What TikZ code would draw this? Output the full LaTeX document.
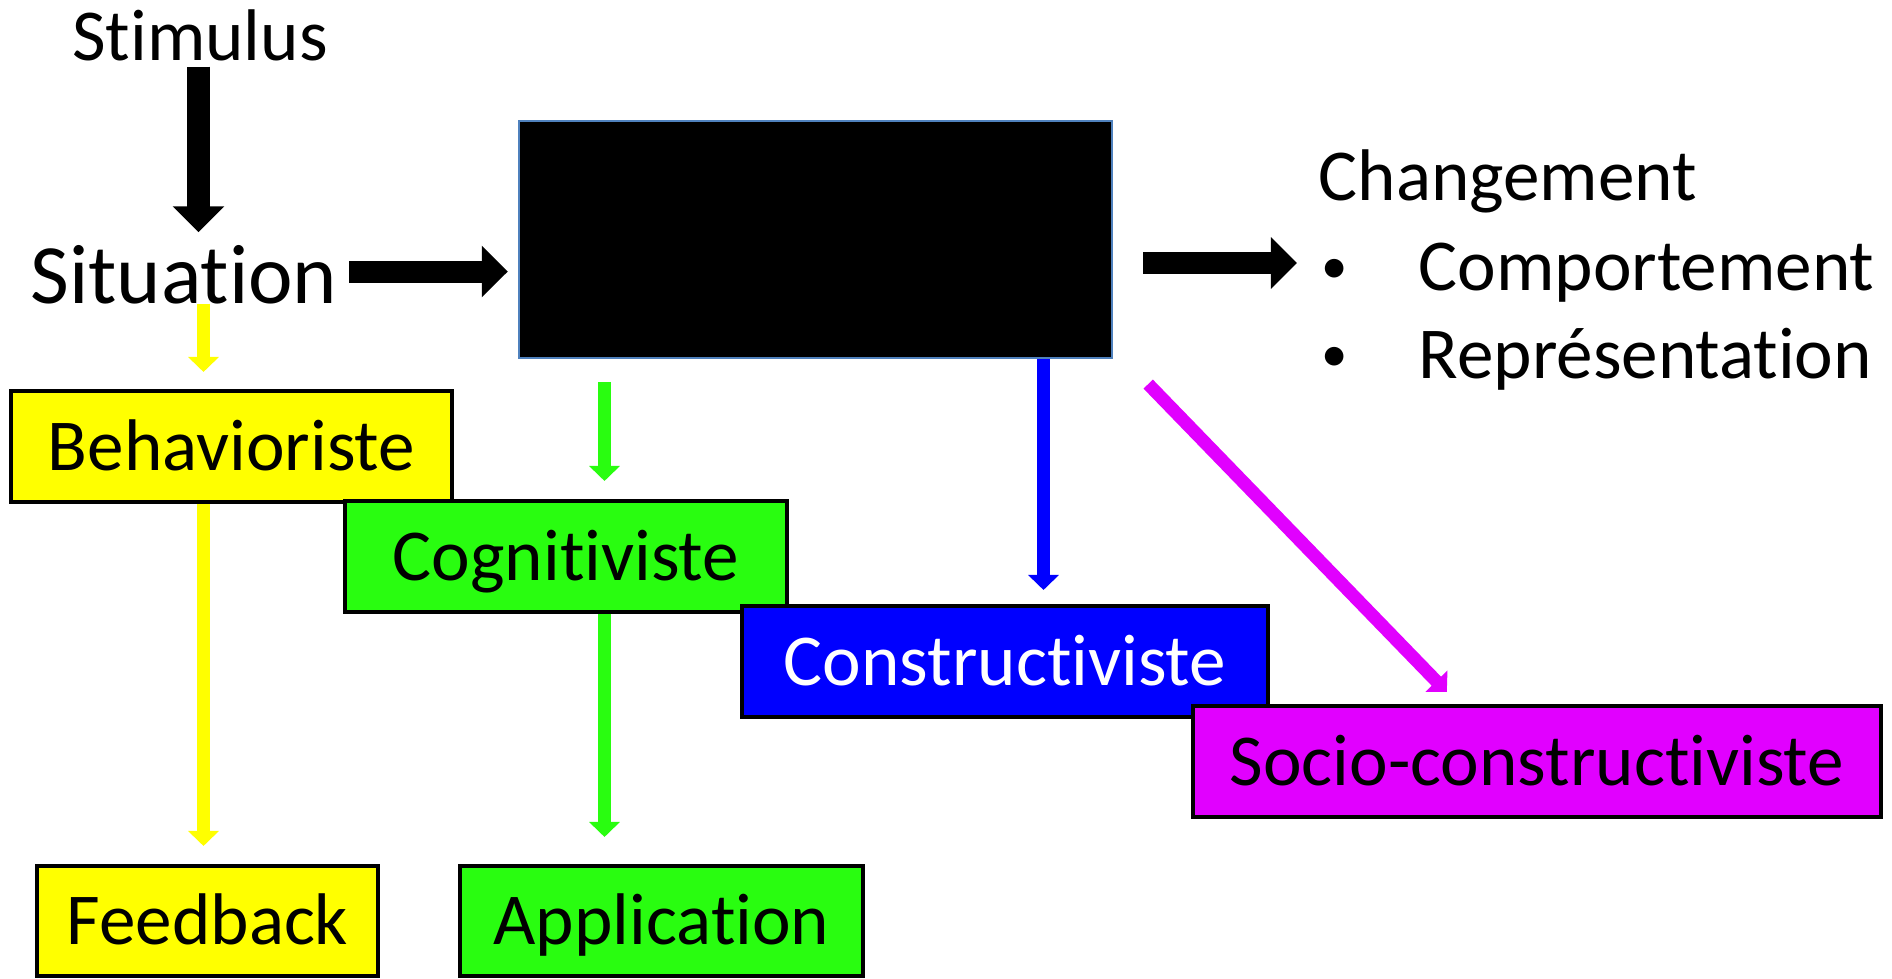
\documentclass[tikz,border=0pt]{standalone}
\usepackage{fontspec}
\setmainfont{Carlito}[Ligatures=NoCommon]
\usetikzlibrary{arrows.meta}
\definecolor{boxyellow}{RGB}{255,255,0}
\definecolor{boxgreen}{RGB}{41,253,16}
\definecolor{boxblue}{RGB}{0,0,255}
\definecolor{boxmagenta}{RGB}{225,0,255}
\definecolor{edgeblue}{RGB}{79,129,189}
\begin{document}
\begin{tikzpicture}[x=0.01cm, y=-0.01cm,
  txt/.style={inner sep=0pt, font=\fontsize{20.8}{25}\selectfont, text height=0.47cm, text depth=0pt},
  dot/.style={inner sep=0pt, font=\fontsize{15}{18}\selectfont, anchor=base, yshift=0.07cm},
  theory/.style={draw=black, line width=0.04cm, inner sep=0pt, font=\fontsize{20.8}{25}\selectfont,
    text height=0.47cm, text depth=0pt, minimum height=1.11cm},
  bigarrow/.style={line width=0.22cm, -{Triangle[length=0.26cm, width=0.50cm]}},
  thinarrow/.style={line width=0.13cm, -{Triangle[length=0.15cm, width=0.30cm]}}]
\useasboundingbox (0,0) rectangle (1892,978);

% Input side
\node[txt, anchor=base] (stim) at (200,60) {Stimulus};
\node[txt, anchor=base, font=\fontsize{24}{29}\selectfont, text height=0.55cm] (sit) at (184,303) {Situation};

% The black box
\node[draw=edgeblue, line width=0.02cm, fill=black, inner sep=0pt,
  minimum width=5.93cm, minimum height=2.37cm] (box) at (815.5,239.5) {};

% Output side
\node[txt, anchor=base west] (chg) at (1318,200) {Changement};
\node[dot] (bul1) at (1335,290) {•};
\node[txt, anchor=base west] (comp) at (1418,290) {Comportement};
\node[dot] (bul2) at (1335,378) {•};
\node[txt, anchor=base west] (repr) at (1418,378) {Représentation};

% The four theories
\node[theory, fill=boxyellow, minimum width=4.41cm] (beh) at (231.5,446.5) {Behavioriste};
\node[theory, fill=boxgreen, minimum width=4.42cm] (cog) at (566,556.5) {Cognitiviste};
\node[theory, fill=boxblue, text=white, minimum width=5.26cm] (cons) at (1005,661.5) {Constructiviste};
\node[theory, fill=boxmagenta, minimum width=6.88cm] (socio) at (1537,761.5) {Socio-constructiviste};
\node[theory, fill=boxyellow, minimum width=3.41cm, minimum height=1.10cm] (feed) at (207.5,921) {Feedback};
\node[theory, fill=boxgreen, minimum width=4.03cm, minimum height=1.10cm] (appl) at (661.5,921) {Application};

% Columns and rows of the arrows
\coordinate (cols) at (198.5,0);
\coordinate (colb) at (203.5,0);
\coordinate (colc) at (604.5,0);
\coordinate (colk) at (1043.5,0);
\coordinate (rowa) at (0,271.5);
\coordinate (rowc) at (0,263);

% Black arrows
\draw[bigarrow, shorten <=0.06cm, shorten >=0.15cm] (cols |- stim.south) -- (cols |- sit.north);
\draw[bigarrow, shorten <=0.11cm, shorten >=0.10cm] (rowa -| sit.east) -- (rowa -| box.west);
\draw[bigarrow, shorten <=0.30cm, shorten >=0.21cm] (rowc -| box.east) -- (rowc -| chg.west);

% Coloured arrows
\draw[thinarrow, boxyellow, shorten >=0.17cm] (colb |- sit.south) -- (colb |- beh.north);
\draw[thinarrow, boxyellow, shorten >=0.18cm] (colb |- beh.south) -- (colb |- feed.north);
\draw[thinarrow, boxgreen, shorten <=0.23cm, shorten >=0.18cm] (colc |- box.south) -- (colc |- cog.north);
\draw[thinarrow, boxgreen, shorten >=0.27cm] (colc |- cog.south) -- (colc |- appl.north);
\draw[thinarrow, boxblue, shorten >=0.14cm] (colk |- box.south) -- (colk |- cons.north);
\draw[thinarrow, boxmagenta] ([shift={(35,25)}]box.south east) -- ([shift={(256,-12)}]socio.north west);
\end{tikzpicture}
\end{document}
